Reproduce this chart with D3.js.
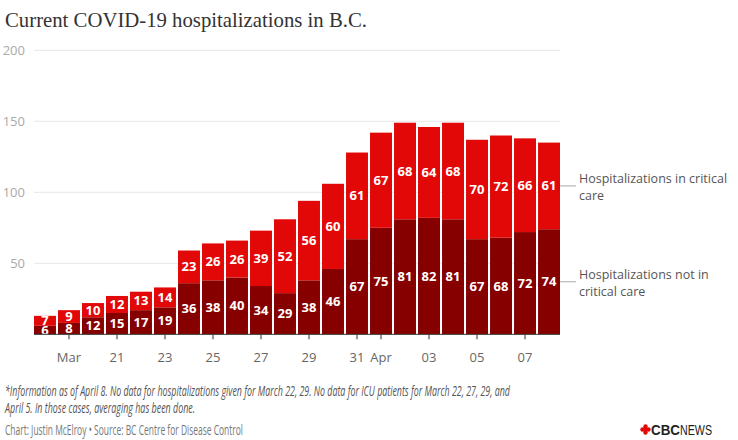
<!DOCTYPE html>
<html>
<head>
<meta charset="utf-8">
<script src="https://cdn.jsdelivr.net/npm/d3@7"></script>
<style>
  body { margin: 0; background: #fff; }
  svg { display: block; }
</style>
</head>
<body>
<div id="canvas"></div>
<script>
var _width = 738;
var _height = 440;

// one bar per day, Mar 18 .. Apr 8
var days = ["03-18","03-19","03-20","03-21","03-22","03-23","03-24","03-25","03-26","03-27","03-28",
            "03-29","03-30","03-31","04-01","04-02","04-03","04-04","04-05","04-06","04-07","04-08"];
var notCritical = [6, 8, 12, 15, 17, 19, 36, 38, 40, 34, 29, 38, 46, 67, 75, 81, 82, 81, 67, 68, 72, 74];
var critical = [7, 9, 10, 12, 13, 14, 23, 26, 26, 39, 52, 56, 60, 61, 67, 68, 64, 68, 70, 72, 66, 61];

var tickDays = ["03-19","03-21","03-23","03-25","03-27","03-29","03-31","04-01","04-03","04-05","04-07"];
var tickLabels = ["Mar","21","23","25","27","29","31","Apr","03","05","07"];
var yTicks = [50, 100, 150, 200];

var legendLabels = [["Hospitalizations in critical", "care"], ["Hospitalizations not in", "critical care"]];

var _dark = "#870000";
var _red = "#e20808";
var _narrow = '"Liberation Sans Narrow", "Open Sans", sans-serif';

var svg = d3.select('#canvas').append('svg')
    .attr('width', _width)
    .attr('height', _height);

// title, sized to the reference width
var title = svg.append('text')
    .attr('x', 5)
    .attr('y', 27)
    .style('font-family', '"Liberation Serif", serif')
    .style('font-size', '24px')
    .style('fill', '#333')
    .text('Current COVID-19 hospitalizations in B.C.');
var tw = title.node().getComputedTextLength();
title.style('font-size', (24 * 362 / tw) + 'px');

var x = d3.scaleBand().domain(days).range([34, 560]).paddingInner(0.085).paddingOuter(0.0);
var y = d3.scaleLinear().domain([0, 200]).range([334.3, 50.3]);

// gridlines + y labels
var grid = svg.append('g');
grid.selectAll('line').data(yTicks).enter().append('line')
    .attr('x1', 34).attr('x2', 560)
    .attr('y1', function (d) { return y(d); })
    .attr('y2', function (d) { return y(d); })
    .style('stroke', '#e6e6e6')
    .style('stroke-width', 1);
grid.selectAll('text').data(yTicks).enter().append('text')
    .attr('x', 25)
    .attr('y', function (d) { return y(d) + 4.5; })
    .attr('text-anchor', 'end')
    .style('font-family', '"Open Sans", sans-serif')
    .style('font-size', '13px')
    .style('fill', '#aaa')
    .text(function (d) { return d; });

var rows = days.map(function (d, i) { return {day: d, nc: notCritical[i], c: critical[i]}; });

var bars = svg.append('g');
bars.selectAll('rect.nc').data(rows).enter().append('rect')
    .attr('class', 'nc')
    .attr('x', function (d) { return x(d.day); })
    .attr('width', x.bandwidth())
    .attr('y', function (d) { return y(d.nc); })
    .attr('height', function (d) { return y(0) - y(d.nc); })
    .style('fill', _dark);
bars.selectAll('rect.c').data(rows).enter().append('rect')
    .attr('class', 'c')
    .attr('x', function (d) { return x(d.day); })
    .attr('width', x.bandwidth())
    .attr('y', function (d) { return y(d.nc + d.c); })
    .attr('height', function (d) { return y(d.nc) - y(d.nc + d.c); })
    .style('fill', _red);

// value labels in the middle of each segment
function label(cls, val, mid) {
    bars.selectAll('text.' + cls).data(rows).enter().append('text')
        .attr('class', cls)
        .attr('x', function (d) { return x(d.day) + x.bandwidth() / 2; })
        .attr('y', function (d) { return y(mid(d)) + 4.5; })
        .attr('text-anchor', 'middle')
        .style('font-family', '"Open Sans", sans-serif')
        .style('font-weight', 'bold')
        .style('font-size', '13px')
        .style('fill', '#fff')
        .text(val);
}
label('lnc', function (d) { return d.nc; }, function (d) { return d.nc / 2; });
label('lc', function (d) { return d.c; }, function (d) { return d.nc + d.c / 2; });

// x axis
var xa = svg.append('g');
xa.append('line')
    .attr('x1', 34).attr('x2', 560)
    .attr('y1', y(0)).attr('y2', y(0))
    .style('stroke', '#333').style('stroke-width', 1);
xa.selectAll('line.tick').data(tickDays).enter().append('line')
    .attr('class', 'tick')
    .attr('x1', function (d) { return x(d) + x.bandwidth() / 2; })
    .attr('x2', function (d) { return x(d) + x.bandwidth() / 2; })
    .attr('y1', y(0)).attr('y2', y(0) + 5)
    .style('stroke', '#333').style('stroke-width', 1);
xa.selectAll('text').data(tickDays).enter().append('text')
    .attr('x', function (d) { return x(d) + x.bandwidth() / 2; })
    .attr('y', 362)
    .attr('text-anchor', 'middle')
    .style('font-family', '"Open Sans", sans-serif')
    .style('font-size', '13px')
    .style('fill', '#666')
    .text(function (d, i) { return tickLabels[i]; });

// legend, pinned to the last bar
var last = rows[rows.length - 1];
var legendY = [y(last.nc + last.c / 2), y(last.nc / 2)];
var lg = svg.append('g');
legendY.forEach(function (ly, i) {
    lg.append('line')
        .attr('x1', 560).attr('x2', 576)
        .attr('y1', ly).attr('y2', ly)
        .style('stroke', '#aaa').style('stroke-width', 1);
    var t = lg.append('text')
        .attr('x', 579)
        .attr('y', ly - 3)
        .style('font-family', '"Open Sans", sans-serif')
        .style('font-size', '12.5px')
        .style('fill', '#555');
    t.append('tspan').attr('x', 579).text(legendLabels[i][0]);
    t.append('tspan').attr('x', 579).attr('dy', 17).text(legendLabels[i][1]);
});

// footnote
var notes = [
    ["*Information as of April 8. No data for hospitalizations given for March 22, 29. No data for ICU patients for March 22, 27, 29, and", 505],
    ["April 5. In those cases, averaging has been done.", 190]
];
notes.forEach(function (n, i) {
    svg.append('text')
        .attr('x', 5)
        .attr('y', 396 + i * 17)
        .attr('textLength', n[1])
        .attr('lengthAdjust', 'spacingAndGlyphs')
        .style('font-family', _narrow)
        .style('font-style', 'italic')
        .style('font-size', '14px')
        .style('fill', '#555')
        .text(n[0]);
});

svg.append('text')
    .attr('x', 5)
    .attr('y', 435)
    .attr('textLength', 238)
    .attr('lengthAdjust', 'spacingAndGlyphs')
    .style('font-family', _narrow)
    .style('font-size', '14px')
    .style('fill', '#777')
    .text('Chart: Justin McElroy \u2022 Source: BC Centre for Disease Control');

// CBC News logo
var logo = svg.append('g').attr('transform', 'translate(645.5,429.5)');
logo.append('circle').attr('r', 2.2).attr('cx', 0).attr('cy', -3).style('fill', _red);
logo.append('circle').attr('r', 2.2).attr('cx', 0).attr('cy', 3).style('fill', _red);
logo.append('circle').attr('r', 2.2).attr('cx', -3).attr('cy', 0).style('fill', _red);
logo.append('circle').attr('r', 2.2).attr('cx', 3).attr('cy', 0).style('fill', _red);
logo.append('circle').attr('r', 2).attr('cx', 0).attr('cy', 0).style('fill', _red);
svg.append('text')
    .attr('x', 651).attr('y', 435)
    .attr('textLength', 29).attr('lengthAdjust', 'spacingAndGlyphs')
    .style('font-family', '"Liberation Sans", sans-serif')
    .style('font-weight', 'bold')
    .style('font-size', '14px')
    .style('fill', '#222')
    .text('CBC');
svg.append('text')
    .attr('x', 680).attr('y', 435)
    .attr('textLength', 32).attr('lengthAdjust', 'spacingAndGlyphs')
    .style('font-family', '"Liberation Sans", sans-serif')
    .style('font-size', '14px')
    .style('fill', '#222')
    .text('NEWS');
</script>
</body>
</html>
